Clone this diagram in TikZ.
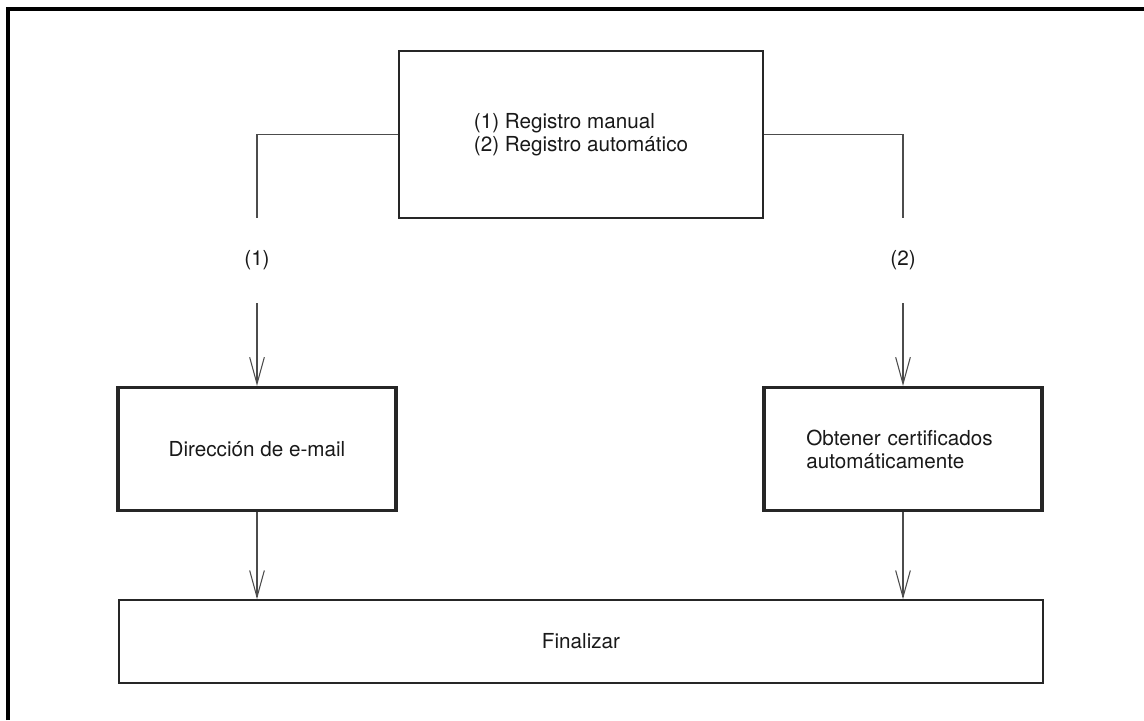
\documentclass[tikz,border=0pt]{standalone}
\usepackage{fontspec}
\setmainfont{TeX Gyre Heros}
\usetikzlibrary{arrows.meta}
\begin{document}
\begin{tikzpicture}[x=0.75pt,y=-0.75pt,
  txt/.style={font=\fontsize{15.5}{17.3}\selectfont, text=black!90},
  plainbox/.style={draw=black!85, line width=1.5pt, inner sep=0pt, txt},
  heavybox/.style={draw=black!85, line width=2.6pt, inner sep=0pt, txt},
  conn/.style={draw=black!70, line width=0.8pt},
  arr/.style={conn, -{Straight Barb[length=20pt, width=11pt, line width=0.8pt]}},
  lbl/.style={txt, inner sep=0pt, minimum height=63.75pt, minimum width=20pt},
  frame/.style={line width=2.4pt, black}
]
\useasboundingbox (0,0) rectangle (1144,720);
% outer frame (only left and top visible)
\draw[frame] (8,720) -- (8,9) -- (1144,9);

\node[plainbox, minimum width=273pt, minimum height=125pt, align=left] (top) at (581,134.5)
  {(1) Registro manual\\(2) Registro automático};

\node[lbl] (l1) at (257,260.5) {(1)};
\node[lbl] (l2) at (903,260.5) {(2)};

\node[heavybox, minimum width=208.5pt, minimum height=92pt] (left) at (257,449)
  {Dirección de e-mail};
\node[heavybox, minimum width=208.5pt, minimum height=92pt, align=left, text width=145pt] (right) at (903,449)
  {Obtener certificados\\automáticamente};

\node[plainbox, minimum width=693pt, minimum height=62pt] (fin) at (581,641.5) {Finalizar};

\draw[conn] (top.west) -| (l1.north);
\draw[conn] (top.east) -| (l2.north);
\draw[arr] (l1.south) -- (left.north);
\draw[arr] (l2.south) -- (right.north);
\draw[arr] (left.south) -- (left.south |- fin.north);
\draw[arr] (right.south) -- (right.south |- fin.north);
\end{tikzpicture}
\end{document}
